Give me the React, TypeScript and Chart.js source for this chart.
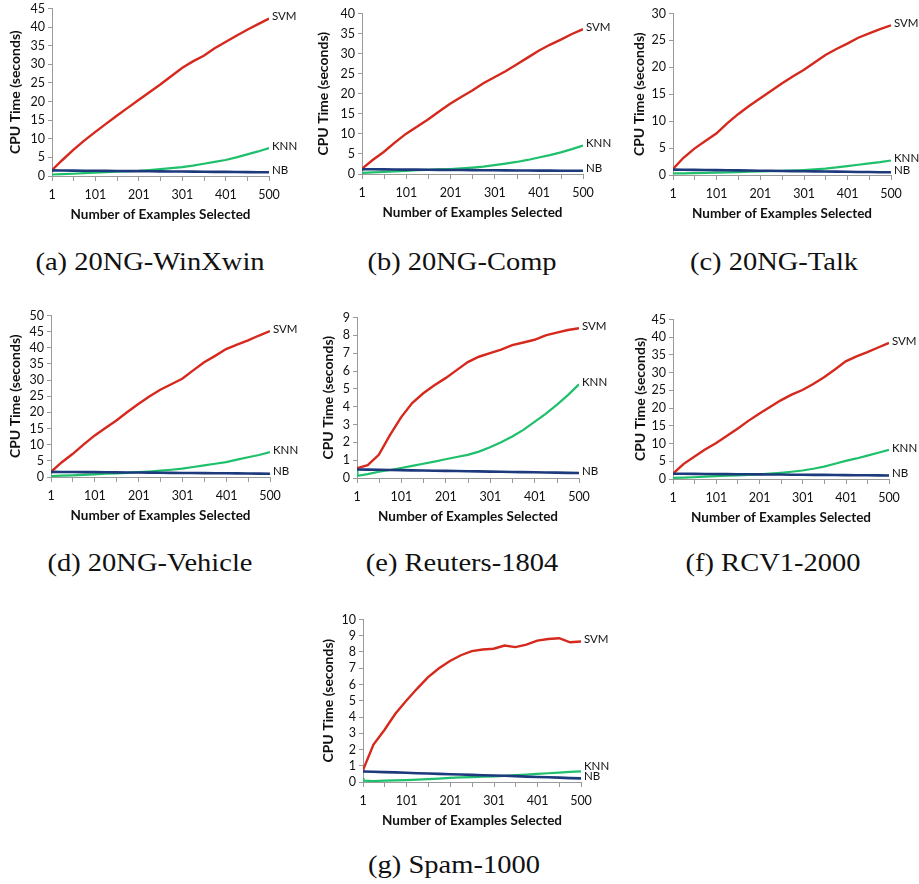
import React, { useEffect, useRef } from "react";
import { Chart, registerables } from "chart.js";

Chart.register(...registerables);

// Sampled x positions (number of examples selected)
const X = [1, 2, 25, 50, 75, 100, 125, 150, 175, 200, 225, 250, 275, 300, 325, 350, 375, 400, 425, 450, 475, 500];
const X_TICKS = [1, 51, 101, 151, 201, 251, 301, 351, 401, 451, 500];
const X_LABELS = [1, 101, 201, 301, 401, 500];
const SERIES = ["SVM", "KNN", "NB"];

// (a) 20NG-WinXwin
const A_SVM = [1.5, 1.7, 4.3, 7.0, 9.5, 11.8, 14.0, 16.2, 18.3, 20.4, 22.5, 24.6, 26.8, 29.0, 30.8, 32.3, 34.3, 36.0, 37.7, 39.3, 40.8, 42.3];
const A_KNN = [0.4, 0.4, 0.5, 0.6, 0.75, 0.9, 1.05, 1.2, 1.3, 1.4, 1.6, 1.85, 2.1, 2.4, 2.8, 3.3, 3.8, 4.3, 5.0, 5.8, 6.6, 7.5];
const A_NB = [1.5, 1.5, 1.47, 1.45, 1.42, 1.4, 1.37, 1.35, 1.32, 1.3, 1.27, 1.25, 1.22, 1.2, 1.17, 1.15, 1.12, 1.1, 1.07, 1.05, 1.02, 1.0];
// (b) 20NG-Comp
const B_SVM = [1.2, 1.4, 3.5, 5.5, 7.8, 10.0, 11.8, 13.6, 15.6, 17.5, 19.2, 20.8, 22.6, 24.1, 25.6, 27.3, 29.0, 30.7, 32.2, 33.5, 34.9, 36.1];
const B_KNN = [0.3, 0.3, 0.4, 0.5, 0.65, 0.8, 0.95, 1.05, 1.15, 1.25, 1.4, 1.6, 1.85, 2.2, 2.6, 3.0, 3.5, 4.1, 4.7, 5.4, 6.2, 7.1];
const B_NB = [1.2, 1.2, 1.18, 1.15, 1.13, 1.1, 1.08, 1.05, 1.03, 1.0, 0.98, 0.96, 0.94, 0.92, 0.9, 0.88, 0.86, 0.85, 0.83, 0.82, 0.81, 0.8];
// (c) 20NG-Talk
const C_SVM = [1.1, 1.2, 3.2, 4.9, 6.3, 7.7, 9.6, 11.3, 12.8, 14.2, 15.6, 17.0, 18.3, 19.5, 20.9, 22.3, 23.4, 24.4, 25.5, 26.3, 27.1, 27.8];
const C_KNN = [0.3, 0.3, 0.32, 0.36, 0.4, 0.45, 0.5, 0.55, 0.6, 0.65, 0.7, 0.75, 0.82, 0.92, 1.05, 1.2, 1.4, 1.65, 1.9, 2.15, 2.4, 2.7];
const C_NB = [1.0, 1.0, 0.98, 0.95, 0.93, 0.9, 0.88, 0.85, 0.83, 0.8, 0.78, 0.75, 0.72, 0.7, 0.67, 0.65, 0.62, 0.6, 0.57, 0.55, 0.52, 0.5];
// (d) 20NG-Vehicle
const D_SVM = [1.5, 1.7, 4.5, 7.1, 10.0, 12.8, 15.2, 17.5, 20.1, 22.6, 24.9, 27.0, 28.7, 30.4, 33.0, 35.5, 37.5, 39.6, 41.0, 42.3, 43.8, 45.2];
const D_KNN = [0.3, 0.3, 0.4, 0.5, 0.65, 0.8, 1.0, 1.15, 1.3, 1.5, 1.7, 1.95, 2.25, 2.6, 3.1, 3.6, 4.1, 4.6, 5.4, 6.1, 6.8, 7.7];
const D_NB = [1.6, 1.6, 1.57, 1.55, 1.52, 1.5, 1.47, 1.44, 1.41, 1.38, 1.35, 1.32, 1.29, 1.26, 1.23, 1.2, 1.17, 1.14, 1.11, 1.08, 1.05, 1.02];
// (e) Reuters-1804
const E_SVM = [0.55, 0.56, 0.72, 1.3, 2.4, 3.4, 4.2, 4.75, 5.2, 5.6, 6.05, 6.5, 6.8, 7.0, 7.2, 7.45, 7.6, 7.75, 8.0, 8.15, 8.3, 8.4];
const E_KNN = [0.5, 0.12, 0.22, 0.35, 0.45, 0.56, 0.68, 0.8, 0.92, 1.05, 1.18, 1.3, 1.48, 1.72, 2.0, 2.33, 2.7, 3.15, 3.6, 4.1, 4.65, 5.25];
const E_NB = [0.48, 0.48, 0.47, 0.46, 0.45, 0.44, 0.43, 0.42, 0.41, 0.4, 0.39, 0.38, 0.37, 0.36, 0.35, 0.34, 0.33, 0.32, 0.31, 0.3, 0.29, 0.28];
// (f) RCV1-2000
const F_SVM = [1.5, 1.6, 4.2, 6.3, 8.3, 10.1, 12.1, 14.2, 16.4, 18.4, 20.3, 22.2, 23.8, 25.1, 26.8, 28.7, 30.9, 33.2, 34.6, 35.8, 37.1, 38.4];
const F_KNN = [0.3, 0.3, 0.4, 0.5, 0.65, 0.8, 0.95, 1.05, 1.15, 1.3, 1.5, 1.75, 2.05, 2.4, 2.9, 3.5, 4.3, 5.1, 5.8, 6.6, 7.4, 8.2];
const F_NB = [1.5, 1.5, 1.47, 1.45, 1.42, 1.4, 1.37, 1.35, 1.32, 1.3, 1.27, 1.25, 1.22, 1.2, 1.17, 1.15, 1.12, 1.1, 1.07, 1.05, 1.02, 1.0];
// (g) Spam-1000
const G_SVM = [0.7, 0.8, 2.3, 3.2, 4.2, 5.0, 5.75, 6.45, 7.0, 7.45, 7.8, 8.05, 8.15, 8.2, 8.4, 8.3, 8.45, 8.7, 8.8, 8.85, 8.6, 8.65];
const G_KNN = [0.25, 0.08, 0.06, 0.08, 0.1, 0.12, 0.15, 0.18, 0.21, 0.25, 0.28, 0.3, 0.33, 0.35, 0.38, 0.42, 0.46, 0.5, 0.54, 0.58, 0.62, 0.65];
const G_NB = [0.65, 0.65, 0.63, 0.61, 0.59, 0.57, 0.54, 0.52, 0.5, 0.48, 0.46, 0.44, 0.42, 0.4, 0.38, 0.36, 0.33, 0.31, 0.29, 0.27, 0.24, 0.22];

const COLORS: Record<string, string> = { SVM: "#d6291d", KNN: "#1fc06b", NB: "#1c3a7c" };
const WIDTHS: Record<string, number> = { SVM: 2.4, KNN: 2.2, NB: 2.6 };
const AXIS = "#9a9a9a";
const TEXT = "#111111";
const FONT = "Lato, 'Open Sans', sans-serif";

type Panel = {
  caption: string;
  ymax: number;
  ystep: number;
  series: number[][];
  plotL: number; plotR: number; plotT: number; plotB: number;
  gap: number;
  capX: number; capY: number;
  dy?: Record<string, number>;
};

const PANELS: Panel[] = [
  { caption: "(a) 20NG-WinXwin", ymax: 45, ystep: 5, series: [A_SVM, A_KNN, A_NB], plotL: 52, plotR: 269, plotT: 8, plotB: 176, gap: 37, capX: 150, capY: 262 },
  { caption: "(b) 20NG-Comp", ymax: 40, ystep: 5, series: [B_SVM, B_KNN, B_NB], plotL: 362, plotR: 583, plotT: 13, plotB: 174, gap: 39, capX: 462, capY: 262 },
  { caption: "(c) 20NG-Talk", ymax: 30, ystep: 5, series: [C_SVM, C_KNN, C_NB], plotL: 673, plotR: 891, plotT: 13, plotB: 175, gap: 34, capX: 774, capY: 262 },
  { caption: "(d) 20NG-Vehicle", ymax: 50, ystep: 5, series: [D_SVM, D_KNN, D_NB], plotL: 51, plotR: 270, plotT: 315, plotB: 477, gap: 36, capX: 150, capY: 563 },
  { caption: "(e) Reuters-1804", ymax: 9, ystep: 1, series: [E_SVM, E_KNN, E_NB], plotL: 357, plotR: 579, plotT: 317, plotB: 478, gap: 29, capX: 462, capY: 563 },
  { caption: "(f) RCV1-2000", ymax: 45, ystep: 5, series: [F_SVM, F_KNN, F_NB], plotL: 673, plotR: 889, plotT: 319, plotB: 479, gap: 33, capX: 773, capY: 563 },
  { caption: "(g) Spam-1000", ymax: 10, ystep: 1, series: [G_SVM, G_KNN, G_NB], plotL: 363, plotR: 581, plotT: 619, plotB: 782, gap: 35, capX: 454, capY: 865, dy: { KNN: -5 } },
];

const endLabels = {
  id: "endLabels",
  afterDatasetsDraw(chart: any, _args: any, opts: any) {
    const ctx = chart.ctx;
    ctx.save();
    ctx.font = `11.5px ${FONT}`;
    ctx.fillStyle = TEXT;
    ctx.textAlign = "left";
    ctx.textBaseline = "middle";
    chart.data.datasets.forEach((ds: any, i: number) => {
      const meta = chart.getDatasetMeta(i);
      const pt = meta.data[meta.data.length - 1];
      if (!pt) return;
      const dy = opts && opts.dy && opts.dy[ds.label] !== undefined ? opts.dy[ds.label] : -2;
      ctx.fillText(ds.label, pt.x + 3, pt.y + dy);
    });
    ctx.restore();
  },
};

const W = 310;
const H = 240;
const X_H = 47;

function PanelChart({ p }: { p: Panel }) {
  const ref = useRef<HTMLCanvasElement | null>(null);
  const cx = p.plotL - 52;
  const cy = p.plotT - 10;
  useEffect(() => {
    if (!ref.current) return;
    const titleCenter = p.plotL - p.gap;
    const padLeft = titleCenter - 8.4 - cx;
    const yW = p.plotL - cx - padLeft;
    const padRight = W - (p.plotR - cx);
    const padBottom = H - (p.plotB - cy) - X_H;
    const order = [2, 1, 0];
    const chart = new Chart(ref.current, {
      type: "line",
      data: {
        datasets: order.map((k) => ({
          label: SERIES[k],
          data: X.map((x, i) => ({ x, y: p.series[k][i] })),
          borderColor: COLORS[SERIES[k]],
          backgroundColor: COLORS[SERIES[k]],
          borderWidth: WIDTHS[SERIES[k]],
          pointRadius: 0,
          tension: 0,
          fill: false,
        })),
      },
      options: {
        animation: false,
        responsive: false,
        events: [],
        layout: { padding: { left: padLeft, right: padRight, top: 10, bottom: padBottom } },
        plugins: {
          legend: { display: false },
          tooltip: { enabled: false },
          endLabels: { dy: p.dy || {} },
        } as any,
        scales: {
          x: {
            type: "linear",
            min: 1,
            max: 500,
            afterBuildTicks: (s: any) => {
              s.ticks = X_TICKS.map((v) => ({ value: v }));
            },
            afterFit: (s: any) => {
              s.height = X_H;
            },
            ticks: {
              autoSkip: false,
              maxRotation: 0,
              padding: 6,
              color: TEXT,
              font: { family: FONT, size: 12.5 },
              callback: (v: any) => (X_LABELS.includes(Number(v)) ? String(v) : ""),
            },
            grid: { drawOnChartArea: false, drawTicks: true, tickLength: 5, color: AXIS },
            border: { color: AXIS, width: 1 },
            title: {
              display: true,
              text: "Number of Examples Selected",
              color: TEXT,
              font: { family: FONT, size: 13.5, weight: "bold" },
              padding: { top: 0, bottom: 0 },
            },
          },
          y: {
            min: 0,
            max: p.ymax,
            afterFit: (s: any) => {
              s.width = yW;
            },
            ticks: { stepSize: p.ystep, autoSkip: false, padding: 3, color: TEXT, font: { family: FONT, size: 12.5 } },
            grid: { drawOnChartArea: false, drawTicks: true, tickLength: 4, color: AXIS },
            border: { color: AXIS, width: 1 },
            title: {
              display: true,
              text: "CPU Time (seconds)",
              color: TEXT,
              font: { family: FONT, size: 14, weight: "bold" },
              padding: { top: 0, bottom: 0 },
            },
          },
        },
      } as any,
      plugins: [endLabels],
    });
    return () => chart.destroy();
  }, []);
  return (
    <canvas
      ref={ref}
      width={W}
      height={H}
      style={{ position: "absolute", left: cx, top: cy, width: W, height: H }}
    />
  );
}

export default function App() {
  return (
    <div style={{ position: "absolute", left: 0, top: 0, width: 919, height: 884, background: "#fff", overflow: "hidden" }}>
      {PANELS.map((p) => (
        <PanelChart key={p.caption} p={p} />
      ))}
      {PANELS.map((p) => (
        <div
          key={"c" + p.caption}
          style={{
            position: "absolute",
            left: p.capX,
            top: p.capY,
            transform: "translate(-50%, -50%) scaleX(1.14)",
            whiteSpace: "nowrap",
            fontFamily: "'Liberation Serif', 'DejaVu Serif', serif",
            fontSize: 25,
            color: "#111",
          }}
        >
          {p.caption}
        </div>
      ))}
    </div>
  );
}
